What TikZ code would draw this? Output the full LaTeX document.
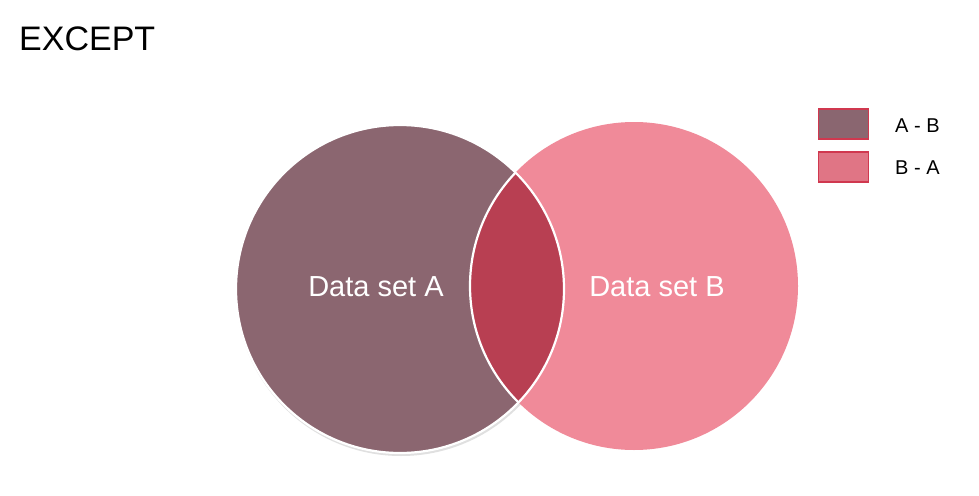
\documentclass[tikz,border=0pt]{standalone}
\usepackage{fontspec}
\setmainfont{Liberation Sans}
\definecolor{setA}{HTML}{8B6670}
\definecolor{setB}{HTML}{F08A99}
\definecolor{lens}{HTML}{B83F52}
\definecolor{legA}{HTML}{8A6670}
\definecolor{legB}{HTML}{E07585}
\definecolor{legedge}{HTML}{D0384F}
\tikzset{
  lbl/.style={text=white, font=\fontsize{29}{34}\selectfont, inner sep=0pt},
  legbox/.style={draw=legedge, line width=1.2pt, minimum width=50pt, minimum height=30pt, inner sep=0pt},
  legtxt/.style={font=\fontsize{20}{24}\selectfont, anchor=west, inner sep=0pt}
}
\begin{document}
\begin{tikzpicture}[x=1pt,y=-1pt]
\useasboundingbox (0,0) rectangle (979,495);
\fill[white] (0,0) rectangle (979,495);
% title
\node[anchor=west, inner sep=0pt, font=\fontsize{34}{40}\selectfont] (title) at (19,39) {EXCEPT};
% shadow of A
\fill[black!12] (401,291) circle (165);
% circles
\fill[setB] (634,286) circle (164);
\fill[setA] (400,289) circle (164);
\begin{scope}
  \clip (400,289) circle (164);
  \fill[lens] (634,286) circle (164);
  \draw[white, line width=2.2pt] (634,286) circle (164);
\end{scope}
\draw[white, line width=2.2pt] (400,289) circle (164);
% labels
\node[lbl] (la) at (376,287) {Data set A};
\node[lbl] (lb) at (657,287) {Data set B};
% legend
\node[legbox, fill=legA] (boxA) at (843.5,124) {};
\node[legbox, fill=legB] (boxB) at (843.5,167) {};
\node[legtxt] (tA) at (895,126) {A - B};
\node[legtxt] (tB) at (895,168) {B - A};
\end{tikzpicture}
\end{document}
